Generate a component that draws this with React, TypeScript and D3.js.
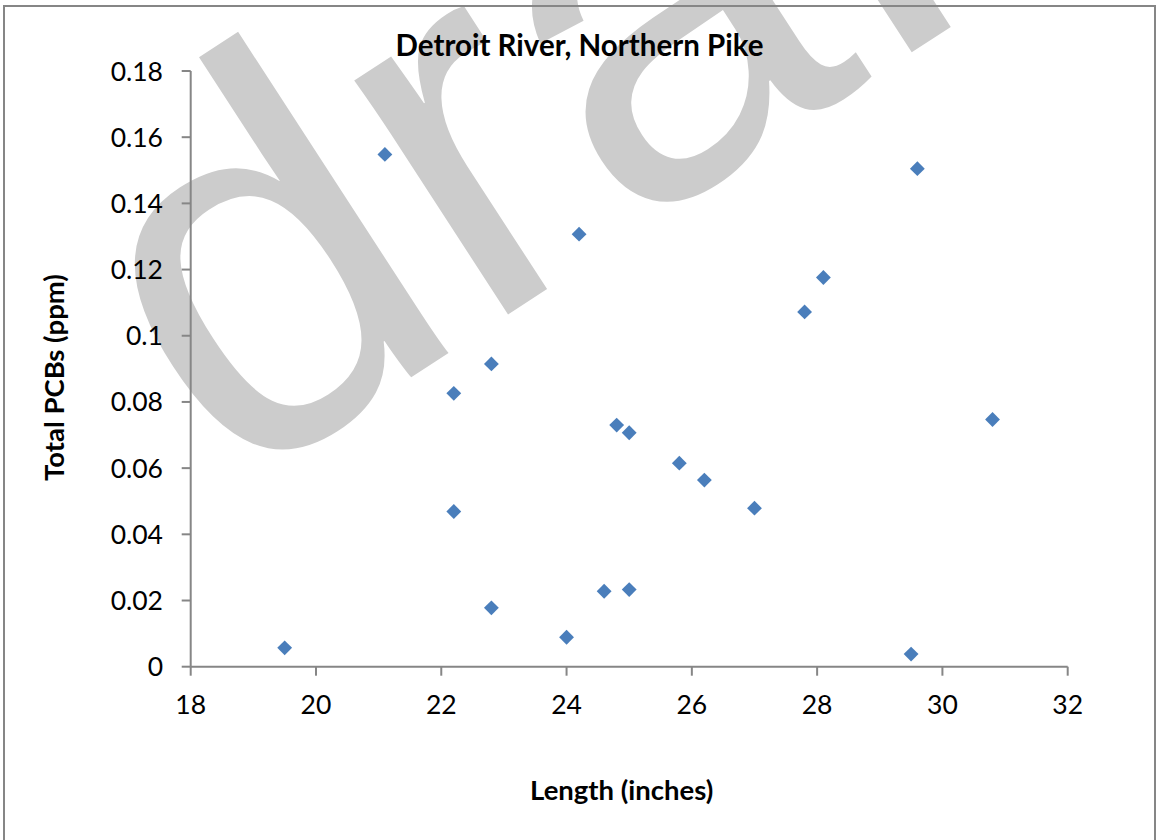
import React from "react";
import * as d3 from "d3";

const lengths = [19.5, 21.1, 22.2, 22.8, 22.2, 22.8, 24.0, 24.6, 25.0, 24.8, 25.0, 25.8, 26.2, 27.0, 24.2, 29.6, 28.1, 27.8, 30.8, 29.5];
const pcbs = [0.0057, 0.1548, 0.0826, 0.0915, 0.0469, 0.0178, 0.0089, 0.0228, 0.0233, 0.073, 0.0707, 0.0615, 0.0564, 0.0479, 0.1307, 0.1505, 0.1176, 0.1072, 0.0747, 0.0038];
const xTicks = [18, 20, 22, 24, 26, 28, 30, 32];
const yTicks = [0, 0.02, 0.04, 0.06, 0.08, 0.1, 0.12, 0.14, 0.16, 0.18];
const title = "Detroit River, Northern Pike";
const xTitle = "Length (inches)";
const yTitle = "Total PCBs (ppm)";
const watermark = "draft";

const W = 1156, H = 840;
const left = 190.7, right = 1067.7, top = 71, bottom = 666.7;
const axisColor = "#868686";
const font = "Lato, 'Open Sans', sans-serif";

export default function App() {
  const x = d3.scaleLinear().domain([18, 32]).range([left, right]);
  const y = d3.scaleLinear().domain([0, 0.18]).range([bottom, top]);
  const diamond = d3.symbol().type(d3.symbolSquare).size(110)();
  const pts = lengths.map((l, i) => ({ l, v: pcbs[i] }));
  return (
    <svg width={W} height={H} style={{ position: "absolute", left: 0, top: 0, background: "#fff" }}>
      <rect x={0} y={0} width={W} height={H} fill="#fff" />
      <text
        x={230}
        y={495}
        transform="rotate(-33,230,495)"
        fontFamily="'Liberation Sans', Arial, sans-serif"
        fontSize={530}
        fill="#cccccc"
      >
        {watermark}
      </text>
      <rect x={4} y={6} width={1151} height={860} fill="none" stroke={axisColor} strokeWidth={2} />
      <text x={579.5} y={56} textAnchor="middle" fontFamily={font} fontWeight="bold" fontSize={29.5} fill="#000">
        {title}
      </text>
      {/* y axis */}
      <line x1={left} x2={left} y1={top} y2={bottom} stroke={axisColor} strokeWidth={2} />
      {yTicks.map((t) => (
        <g key={"y" + t}>
          <line x1={left - 9} x2={left} y1={y(t)} y2={y(t)} stroke={axisColor} strokeWidth={2} />
          <text x={163} y={y(t)} dy="0.36em" textAnchor="end" fontFamily={font} fontSize={26.5} fill="#000">
            {String(t)}
          </text>
        </g>
      ))}
      {/* x axis */}
      <line x1={left} x2={right} y1={bottom} y2={bottom} stroke={axisColor} strokeWidth={2} />
      {xTicks.map((t) => (
        <g key={"x" + t}>
          <line x1={x(t)} x2={x(t)} y1={bottom} y2={bottom + 9} stroke={axisColor} strokeWidth={2} />
          <text x={x(t)} y={714} textAnchor="middle" fontFamily={font} fontSize={26.5} fill="#000">
            {String(t)}
          </text>
        </g>
      ))}
      <text x={621.7} y={800} textAnchor="middle" fontFamily={font} fontWeight="bold" fontSize={27.5} fill="#000">
        {xTitle}
      </text>
      <text
        x={0}
        y={0}
        transform="translate(64,377.5) rotate(-90)"
        textAnchor="middle"
        fontFamily={font}
        fontWeight="bold"
        fontSize={27.5}
        fill="#000"
      >
        {yTitle}
      </text>
      {pts.map((p, i) => (
        <path
          key={i}
          d={diamond}
          transform={`translate(${x(p.l)},${y(p.v)}) rotate(45)`}
          fill="#4A7EBB"
        />
      ))}
    </svg>
  );
}
